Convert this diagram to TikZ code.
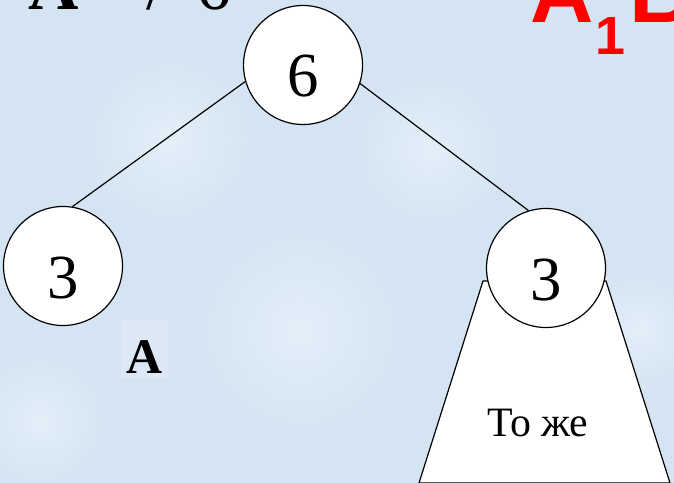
\documentclass[tikz,border=0pt]{standalone}
\usepackage{fontspec}
\setmainfont{Liberation Serif}
\newfontfamily\headsans{Liberation Sans}
\definecolor{bgblue}{HTML}{D4E4F2}
\definecolor{bglight}{HTML}{E3EFF9}
\definecolor{patchblue}{HTML}{DCE9F5}
\definecolor{titlered}{HTML}{FF0000}
\begin{document}
\begin{tikzpicture}[x=1bp,y=-1bp,
  vertex/.style={circle,draw=black,fill=white,line width=1.2bp,minimum size=119bp,inner sep=0pt,
    text height=64bp,text depth=0bp,font=\fontsize{63}{63}\selectfont},
  branch/.style={black,line width=1.2bp},
  subtree/.style={draw=black,fill=white,line width=1.2bp},
  glow/.style={inner color=bglight,outer color=bgblue}]
  \useasboundingbox (0,0) rectangle (674,483);
  % background with soft lighter areas
  \fill[bgblue] (0,0) rectangle (674,483);
  \shade[glow] (170,140) circle (90bp);
  \shade[glow] (430,150) circle (80bp);
  \shade[glow] (300,330) circle (110bp);
  \shade[glow] (40,420) circle (70bp);
  \shade[glow] (640,330) circle (60bp);
  % headings, partly cut off at the top edge
  \node[anchor=base west,inner sep=0pt,font=\fontsize{70}{70}\selectfont\bfseries] (ha) at (28,10) {A};
  \node[anchor=base west,inner sep=0pt,font=\fontsize{70}{70}\selectfont] (hb) at (146,10) {/};
  \node[anchor=base west,inner sep=0pt,font=\fontsize{70}{70}\selectfont] (hc) at (196,10) {6};
  \node[anchor=base west,inner sep=0pt,text=titlered,font=\fontsize{88}{88}\headsans\bfseries] (hd) at (530,23) {A};
  \node[anchor=base west,inner sep=0pt,text=titlered,font=\fontsize{54}{54}\headsans\bfseries] (he) at (595,55) {1};
  \node[anchor=base west,inner sep=0pt,text=titlered,font=\fontsize{88}{88}\headsans\bfseries] (hf) at (629,23) {B};
  % subtree under the right child
  \coordinate (t1) at (483,281);
  \coordinate (t2) at (606,281);
  \coordinate (t3) at (670,483);
  \coordinate (t4) at (419,483);
  \filldraw[subtree] (t1) -- (t2) -- (t3) -- (t4) -- cycle;
  \node[font=\fontsize{42}{42}\selectfont,anchor=base,inner sep=0pt] (same) at (538,436) {То же};
  % tree
  \node[vertex] (root) at (303,65) {6};
  \node[vertex] (left) at (63,266) {3};
  \node[vertex] (right) at (546,268) {3};
  \draw[branch] (root.196) -- (left.81);
  \draw[branch] (root.342) -- (right.107);
  % label under the left child
  \fill[patchblue] (121,320) rectangle (168,378);
  \node[anchor=base,inner sep=0pt,font=\fontsize{50}{50}\selectfont\bfseries] (la) at (144,373) {A};
\end{tikzpicture}
\end{document}
